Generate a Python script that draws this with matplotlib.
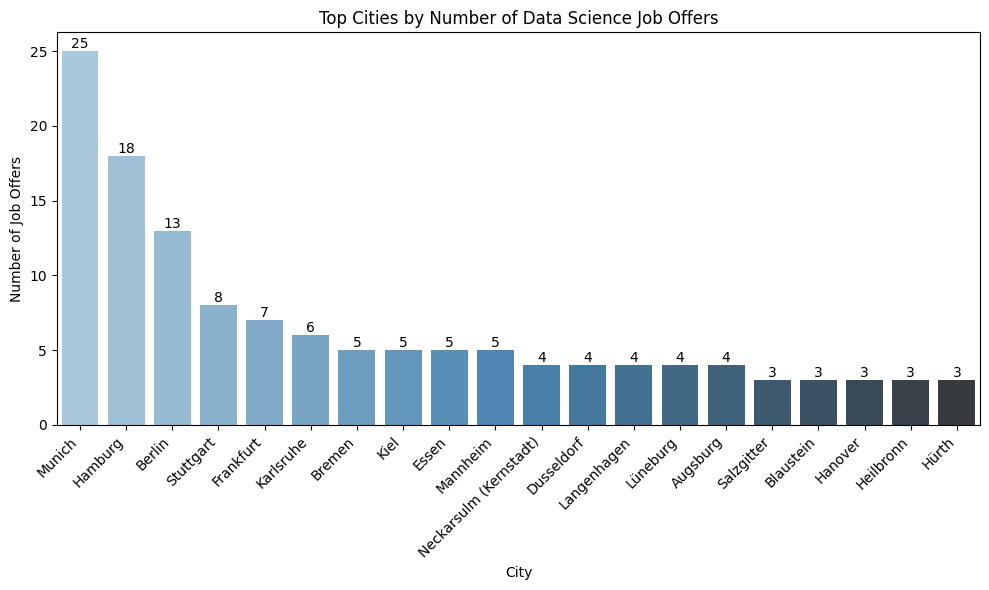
import matplotlib
matplotlib.use("Agg")
import matplotlib.pyplot as plt
import seaborn as sns
import pandas as pd

cities = ["Munich", "Hamburg", "Berlin", "Stuttgart", "Frankfurt", "Karlsruhe",
          "Bremen", "Kiel", "Essen", "Mannheim", "Neckarsulm (Kernstadt)",
          "Dusseldorf", "Langenhagen", "Lüneburg", "Augsburg", "Salzgitter",
          "Blaustein", "Hanover", "Heilbronn", "Hürth"]
offers = [25, 18, 13, 8, 7, 6, 5, 5, 5, 5, 4, 4, 4, 4, 4, 3, 3, 3, 3, 3]

df = pd.DataFrame({"City": cities, "Number of Job Offers": offers})

fig, ax = plt.subplots(figsize=(10, 6), dpi=100)
sns.barplot(data=df, x="City", y="Number of Job Offers", hue="City",
            palette="Blues_d", legend=False, ax=ax)

# value labels on top of bars
for c in ax.containers:
    ax.bar_label(c)

plt.title("Top Cities by Number of Data Science Job Offers")
plt.xlabel("City")
plt.ylabel("Number of Job Offers")
plt.xticks(rotation=45, ha="right")
plt.tight_layout()
plt.savefig("out.png", bbox_inches="tight")
